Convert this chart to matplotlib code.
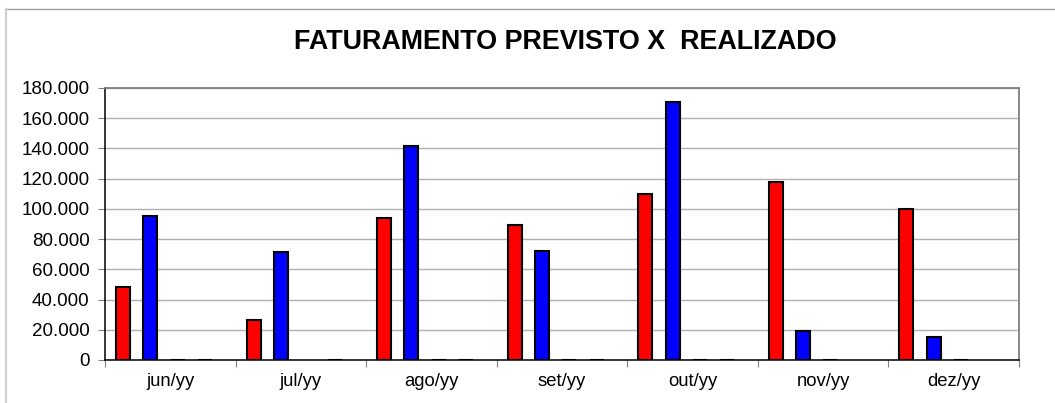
import matplotlib
matplotlib.use("Agg")
import matplotlib.pyplot as plt
import numpy as np
from matplotlib.lines import Line2D
from matplotlib.ticker import FuncFormatter

plt.rcParams['font.family'] = ['Liberation Sans', 'DejaVu Sans']

categories = ["jun/yy", "jul/yy", "ago/yy", "set/yy", "out/yy", "nov/yy", "dez/yy"]
previsto = [48000, 26500, 94000, 89300, 109900, 117800, 99800]
realizado = [95000, 71500, 141800, 72000, 170700, 19200, 15200]
serie3 = [0, np.nan, 0, 0, 0, 0, 0]
serie4 = [0, 0, 0, 0, 0, np.nan, np.nan]
title = "FATURAMENTO PREVISTO X  REALIZADO"

series = [previsto, realizado, serie3, serie4]
colors = ["#ff0000", "#0000ff", "#ffffff", "#ffffff"]

W, H = 1055, 403
fig = plt.figure(figsize=(W / 100, H / 100), dpi=100)
ax = fig.add_axes([105 / W, 1 - 360 / H, (1019 - 105) / W, (360 - 88) / H])

x = np.arange(len(categories))
step = 0.209
width = 0.107
shift = -0.049
for i, (vals, c) in enumerate(zip(series, colors)):
    v = np.array(vals, dtype=float)
    mask = ~np.isnan(v)
    ax.bar(x[mask] + (i - 1.5) * step + shift, v[mask], width=width, color=c,
           edgecolor="black", linewidth=1.5, zorder=3)

ax.set_xlim(-0.5, len(categories) - 0.5)
ax.set_ylim(0, 180000)
ax.set_yticks(np.arange(0, 180001, 20000))
ax.yaxis.set_major_formatter(FuncFormatter(lambda v, p: f"{int(v):,}".replace(",", ".")))
ax.grid(axis="y", color="#b0b0b0", linewidth=1.0, zorder=0)

ax.set_xticks(np.arange(-0.5, len(categories)), minor=False)
ax.set_xticklabels([])
ax.set_xticks(x, minor=True)
ax.set_xticklabels(categories, minor=True)
ax.tick_params(axis="x", which="major", length=5, color="#808080", direction="out")
ax.tick_params(axis="x", which="minor", length=0, pad=9, labelsize=13.3)
ax.tick_params(axis="y", length=5, color="#808080", direction="out", pad=6, labelsize=13.5)

for s in ["left", "bottom"]:
    ax.spines[s].set_color("black")
    ax.spines[s].set_linewidth(1.1)
for s in ["top", "right"]:
    ax.spines[s].set_color("#808080")
    ax.spines[s].set_linewidth(1.3)

fig.text(565 / W, 1 - 42 / H, title, ha="center", va="center",
         fontsize=19.4, fontweight="bold")

fig.add_artist(Line2D([5.5 / W, 1.0], [1 - 9 / H, 1 - 9 / H], color="#a0a0a0", linewidth=1.0))
fig.add_artist(Line2D([6 / W, 6 / W], [0, 1 - 9 / H], color="#d0d0d0", linewidth=1.6))

fig.savefig("out.png", dpi=100)
